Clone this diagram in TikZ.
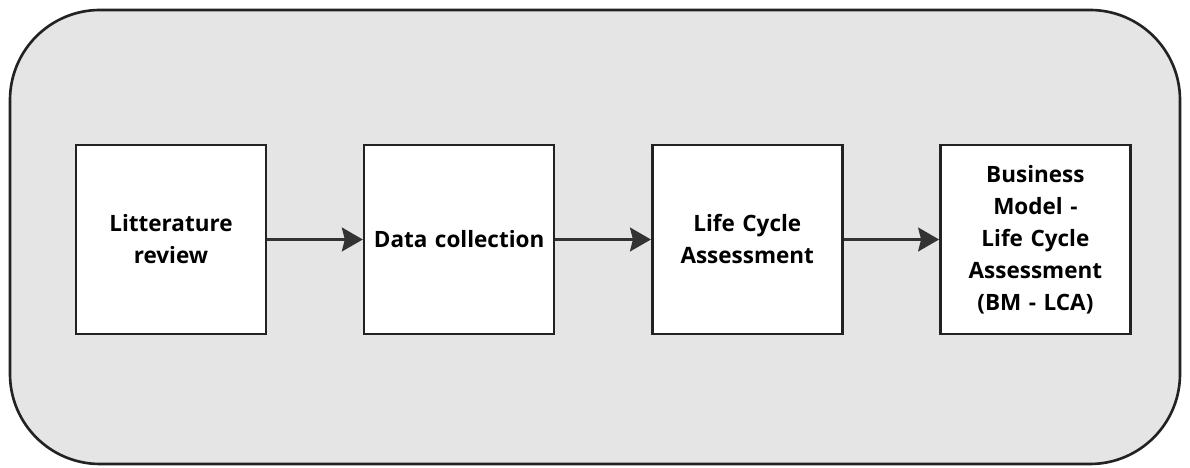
\documentclass[tikz,border=0pt]{standalone}
\usepackage{fontspec}
\setmainfont{Open Sans}
\usetikzlibrary{positioning, arrows.meta}
\definecolor{panelgray}{HTML}{E5E5E5}
\definecolor{linegray}{HTML}{222222}
\definecolor{arrowgray}{HTML}{333333}
\begin{document}
\begin{tikzpicture}[
    stagebox/.style={draw=linegray, line width=1.5pt, fill=white, minimum width=3.8cm, minimum height=3.78cm, text width=3.5cm, align=center, font=\bfseries\fontsize{12.8}{18.2}\selectfont},
    flow/.style={draw=arrowgray, line width=1.2pt, -{Stealth[length=0.42cm, width=0.48cm, inset=0.06cm]}}
  ]
          \useasboundingbox (0, 0) rectangle (23.8, 9.36);
          \draw[draw=linegray, line width=1.5pt, fill=panelgray, rounded corners=1.8cm] (0.2, 0.08) rectangle (23.6, 9.16);
          \node[stagebox] (review) at (3.42, 4.57) {Litterature\\review};
          \node[stagebox, right=1.91cm of review] (collect) {Data collection};
          \node[stagebox, right=1.91cm of collect] (lca) {Life Cycle\\Assessment};
          \node[stagebox, right=1.91cm of lca] (bmlca) {Business\\Model -\\Life Cycle\\Assessment\\(BM - LCA)};
          \draw[flow] (review) -- (collect);
          \draw[flow] (collect) -- (lca);
          \draw[flow] (lca) -- (bmlca);
        \end{tikzpicture}
\end{document}
